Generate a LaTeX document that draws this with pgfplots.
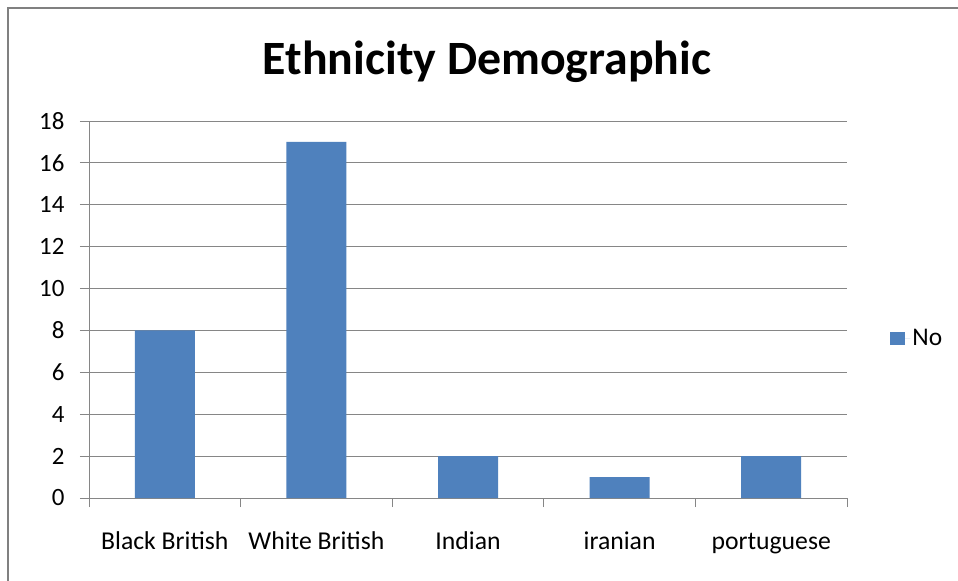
\documentclass[border=0pt]{standalone}
\usepackage{pgfplots}
\pgfplotsset{compat=1.18}
\usepackage{fontspec}
\setmainfont{Carlito}
\definecolor{barblue}{RGB}{79,129,189}
\definecolor{gridgray}{RGB}{134,134,134}
\definecolor{framegray}{RGB}{128,128,128}
\begin{document}
\begin{tikzpicture}
\useasboundingbox (-89bp,-83bp) rectangle (869bp,498bp);
\fill[white] (-89bp,-83bp) rectangle (869bp,498bp);
\draw[framegray, line width=2.5bp] (-81bp,-83bp) -- (-81bp,490bp) -- (869bp,490bp);
\begin{axis}[
    at={(0,0)}, anchor=south west,
    scale only axis,
    width=758bp, height=377bp,
    xmin=-0.5, xmax=4.5,
    ymin=0, ymax=18,
    ytick={0,2,...,18},
    xtick={-0.5,0.5,...,4.5},
    xticklabels={},
    extra x ticks={0,1,2,3,4},
    extra x tick labels={Black British,White British,Indian,iranian,portuguese},
    extra x tick style={major tick length=0pt,
        xticklabel style={anchor=base, yshift=-51bp, font=\fontsize{25.8}{30}\selectfont}},
    axis x line*=bottom, axis y line*=left,
    axis line style={gridgray, line width=0.9bp},
    ymajorgrids,
    grid style={gridgray, line width=0.9bp},
    tick style={gridgray, line width=0.9bp},
    tick align=outside,
    major tick length=9bp,
    ticklabel style={font=\fontsize{25}{30}\selectfont, text=black},
    /pgf/number format/assume math mode=true,
    yticklabel style={anchor=east, xshift=-12bp},
    legend style={draw=none, fill=none, at={(axis description cs:1.057,0.424)},
        anchor=west, inner xsep=0pt, font=\fontsize{25.5}{30}\selectfont},
    legend image code/.code={\fill[barblue] (0bp,-6.5bp) rectangle (15bp,6.5bp);
        \path (0bp,0bp) -- (20bp,0bp);},
]
\addplot[ybar, fill=barblue, draw=none, bar width=60bp]
    coordinates {(0,8) (1,17) (2,2) (3,1) (4,2)};
\addlegendentry{No}
\end{axis}
\node[font=\bfseries\fontsize{48}{56}\selectfont, anchor=base] at (398bp,423bp) {Ethnicity Demographic};
\end{tikzpicture}
\end{document}
